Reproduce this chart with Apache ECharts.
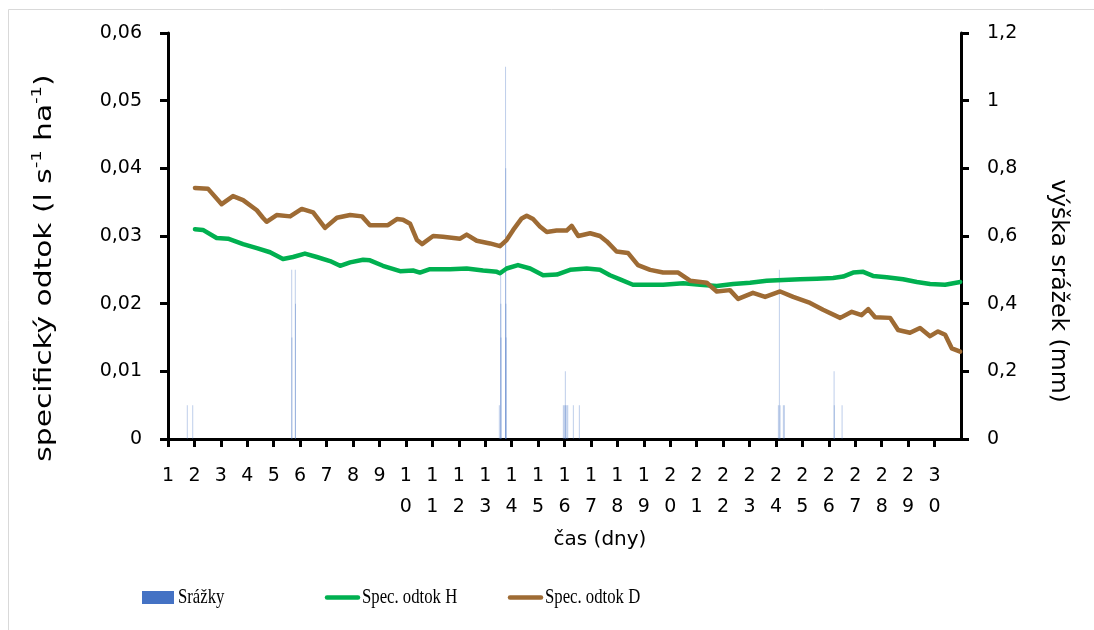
<!DOCTYPE html>
<html>
<head>
<meta charset="utf-8">
<script src="https://cdn.jsdelivr.net/npm/echarts@6/dist/echarts.min.js"></script>
<style>
  html, body { margin: 0; padding: 0; background: #fff; }
  #chart { width: 1094px; height: 630px; }
</style>
</head>
<body>
<div id="chart"></div>
<script>
// Specifický odtok – povodí H (čas ve dnech, hodnoty v l s-1 ha-1)
const casH = [2.02, 2.32, 2.84, 3.27, 3.84, 4.36, 4.86, 5.35, 5.73, 6.18, 6.63, 7.13, 7.51, 7.89,
  8.38, 8.64, 9.13, 9.78, 10.27, 10.53, 10.91, 11.67, 12.30, 12.92, 13.44, 13.56, 13.81, 14.24,
  14.70, 15.19, 15.71, 16.21, 16.84, 17.34, 17.72, 18.10, 18.59, 19.24, 19.73, 20.49, 21.13,
  21.76, 22.38, 23.02, 23.65, 24.27, 24.91, 25.54, 26.16, 26.54, 26.92, 27.30, 27.67, 28.19,
  28.81, 29.33, 29.83, 30.40, 30.97];
const odtokH = [0.0310, 0.0309, 0.0297, 0.0296, 0.0288, 0.0282, 0.0276, 0.0266, 0.0269, 0.0274,
  0.0269, 0.0263, 0.0256, 0.0261, 0.0265, 0.0264, 0.0256, 0.0248, 0.0249, 0.0246, 0.0251, 0.0251,
  0.0252, 0.0249, 0.0247, 0.0245, 0.0252, 0.0257, 0.0252, 0.0242, 0.0243, 0.0250, 0.0252, 0.0250,
  0.0242, 0.0236, 0.0228, 0.0228, 0.0228, 0.0230, 0.0228, 0.0226, 0.0229, 0.0231, 0.0234, 0.0235,
  0.0236, 0.0237, 0.0238, 0.0240, 0.0246, 0.0247, 0.0241, 0.0239, 0.0236, 0.0232, 0.0229, 0.0228,
  0.0232];

// Specifický odtok – povodí D
const casD = [2.02, 2.51, 3.03, 3.46, 3.84, 4.36, 4.59, 4.73, 5.11, 5.62, 6.06, 6.49, 6.94, 7.39,
  7.89, 8.34, 8.64, 9.32, 9.66, 9.89, 10.16, 10.42, 10.61, 11.03, 11.40, 12.05, 12.30, 12.68, 13.18,
  13.56, 13.81, 14.06, 14.38, 14.57, 14.81, 15.07, 15.33, 15.70, 16.08, 16.27, 16.52, 16.97, 17.34,
  17.60, 17.97, 18.40, 18.78, 19.24, 19.73, 20.30, 20.75, 21.38, 21.76, 22.26, 22.57, 23.13, 23.59,
  24.16, 24.65, 25.29, 25.78, 26.43, 26.87, 27.24, 27.49, 27.75, 28.32, 28.62, 29.07, 29.45, 29.83,
  30.13, 30.40, 30.65, 30.97];
const odtokD = [0.0371, 0.0370, 0.0347, 0.0359, 0.0353, 0.0338, 0.0327, 0.0321, 0.0331, 0.0329,
  0.0340, 0.0335, 0.0312, 0.0327, 0.0331, 0.0329, 0.0316, 0.0316, 0.0325, 0.0324, 0.0318, 0.0294,
  0.0288, 0.0300, 0.0299, 0.0296, 0.0302, 0.0293, 0.0289, 0.0285, 0.0294, 0.0309, 0.0326, 0.0330,
  0.0325, 0.0314, 0.0306, 0.0308, 0.0308, 0.0315, 0.0300, 0.0304, 0.0300, 0.0292, 0.0277, 0.0275,
  0.0257, 0.0250, 0.0246, 0.0246, 0.0234, 0.0231, 0.0218, 0.0220, 0.0207, 0.0216, 0.0210, 0.0218,
  0.0210, 0.0201, 0.0191, 0.0179, 0.0188, 0.0183, 0.0192, 0.0180, 0.0179, 0.0161, 0.0157, 0.0164,
  0.0152, 0.0159, 0.0154, 0.0134, 0.0129];

// Srážky (mm) v jednotlivých krocích měření
const casSrazky = [1.730, 1.935, 5.680, 5.687, 5.816, 5.823, 13.535, 13.585, 13.592, 13.599,
  13.770, 13.777, 13.784, 13.791, 15.956, 15.994, 16.032, 16.039, 16.085, 16.123, 16.335, 16.562,
  24.091, 24.129, 24.155, 24.280, 24.318, 26.199, 26.206, 26.501];
const srazky = [0.1, 0.1, 0.5, 0.3, 0.5, 0.4, 0.1, 0.5, 0.4, 0.3,
  1.1, 0.8, 0.4, 0.3, 0.1, 0.1, 0.2, 0.1, 0.1, 0.1, 0.1, 0.1,
  0.1, 0.5, 0.1, 0.1, 0.1, 0.2, 0.1, 0.1];

const nazvy = ['Srážky', 'Spec. odtok H', 'Spec. odtok D'];
const barvy = ['#4472C4', '#00B050', '#9E6B34'];

const zip = (xs, ys) => xs.map((x, i) => [x, ys[i]]);
const carka = (v, d) => String(+v.toFixed(d)).replace('.', ',');

const tickFont = 'DejaVu Sans';
const osa = { show: true, lineStyle: { color: '#000', width: 3 } };
const tick = { show: true, length: 8, lineStyle: { color: '#000', width: 3 } };

// Legenda pod grafem: značka + popisek (úzké patkové písmo)
const legendaY = 597.5;
const legendaText = (text, x) => ({
  type: 'text', x: x, y: legendaY, scaleX: 0.76, silent: true,
  style: { text: text, fontFamily: 'Liberation Serif', fontSize: 22, fill: '#000',
    align: 'left', verticalAlign: 'middle' }
});
const legendaCara = (x1, x2, barva) => ({
  type: 'line', silent: true,
  shape: { x1: x1, y1: legendaY, x2: x2, y2: legendaY },
  style: { stroke: barva, lineWidth: 4.5, lineCap: 'round' }
});

const chart = echarts.init(document.getElementById('chart'), null, { renderer: 'canvas' });
chart.setOption({
  animation: false,
  backgroundColor: '#fff',
  grid: { left: 168, right: 133, top: 33, bottom: 191 },
  xAxis: {
    type: 'value', min: 1, max: 31, interval: 1,
    axisLine: osa, axisTick: tick, splitLine: { show: false },
    axisLabel: {
      margin: 22, fontSize: 19, fontFamily: tickFont, color: '#000', lineHeight: 31,
      showMaxLabel: false,
      formatter: v => v >= 31 ? '' : String(v).split('').join('\n')
    }
  },
  yAxis: [
    {
      type: 'value', min: 0, max: 0.06, interval: 0.01, position: 'left',
      axisLine: osa, axisTick: tick, splitLine: { show: false },
      axisLabel: { margin: 26, fontSize: 19, fontFamily: tickFont, color: '#000',
        formatter: v => carka(v, 2) }
    },
    {
      type: 'value', min: 0, max: 1.2, interval: 0.2, position: 'right',
      axisLine: osa, axisTick: tick, splitLine: { show: false },
      axisLabel: { margin: 26, fontSize: 19, fontFamily: tickFont, color: '#000',
        formatter: v => carka(v, 1) }
    }
  ],
  graphic: [
    { type: 'rect', silent: true, z: -1,
      shape: { x: 8.5, y: 9.5, width: 1200, height: 700 },
      style: { fill: null, stroke: '#d9d9d9', lineWidth: 1 } },
    { type: 'text', x: 45, y: 268, rotation: Math.PI / 2, scaleX: 1.29,
      style: {
        text: 'specifický odtok (l s{sup|-1} ha{sup|-1})',
        fontFamily: tickFont, fontSize: 23, fill: '#000', lineHeight: 30,
        align: 'center', verticalAlign: 'middle',
        rich: { sup: { fontSize: 14, fontFamily: tickFont, fill: '#000', verticalAlign: 'top', lineHeight: 30 } }
      } },
    { type: 'text', x: 1058, y: 291, rotation: -Math.PI / 2,
      style: { text: 'výška srážek (mm)', fontFamily: tickFont, fontSize: 23.5, fill: '#000',
        align: 'center', verticalAlign: 'middle' } },
    { type: 'text', x: 600, y: 540,
      style: { text: 'čas (dny)', fontFamily: tickFont, fontSize: 20, fill: '#000',
        align: 'center', verticalAlign: 'middle' } },
    { type: 'rect', silent: true, shape: { x: 142, y: 591, width: 32, height: 13 },
      style: { fill: barvy[0] } },
    legendaText(nazvy[0], 178),
    legendaCara(327, 358, barvy[1]),
    legendaText(nazvy[1], 362),
    legendaCara(510, 541, barvy[2]),
    legendaText(nazvy[2], 545)
  ],
  series: [
    {
      name: nazvy[0], type: 'bar', yAxisIndex: 1, barWidth: 1,
      data: zip(casSrazky, srazky),
      itemStyle: { color: barvy[0], opacity: 0.35 },
      emphasis: { disabled: true }
    },
    {
      name: nazvy[1], type: 'line', yAxisIndex: 0, showSymbol: false, symbol: 'none',
      data: zip(casH, odtokH), color: barvy[1],
      lineStyle: { color: barvy[1], width: 4.5, join: 'round', cap: 'round' }
    },
    {
      name: nazvy[2], type: 'line', yAxisIndex: 0, showSymbol: false, symbol: 'none',
      data: zip(casD, odtokD), color: barvy[2],
      lineStyle: { color: barvy[2], width: 4.5, join: 'round', cap: 'round' }
    }
  ]
});
</script>
</body>
</html>
